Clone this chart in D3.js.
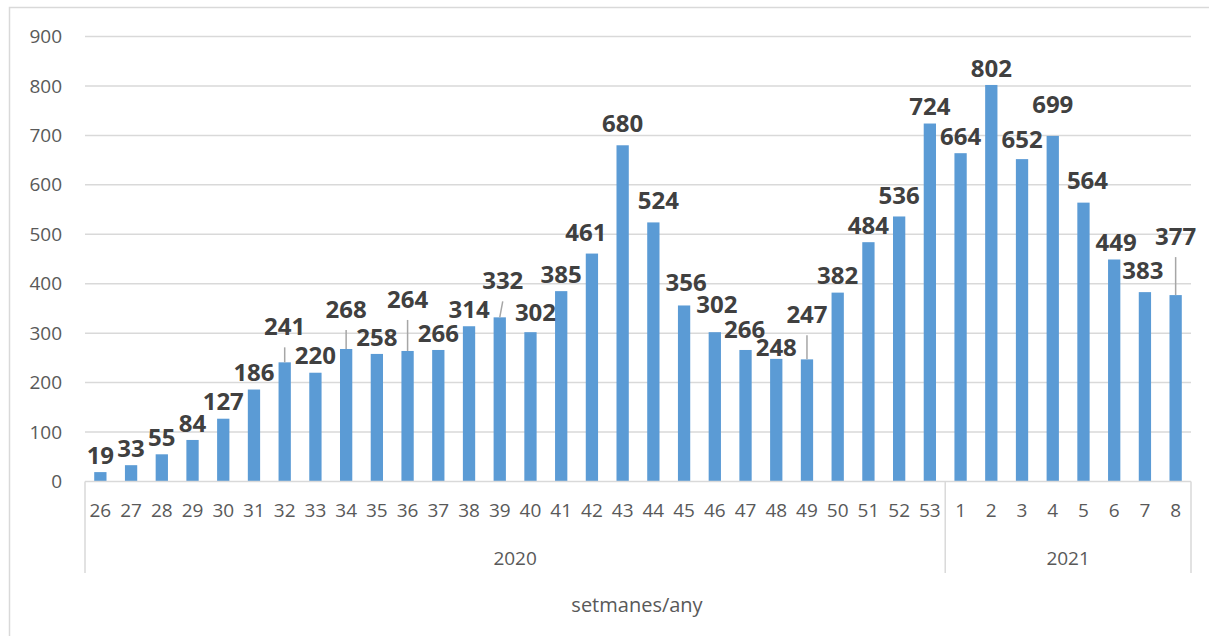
<!DOCTYPE html>
<html>
<head>
<meta charset="utf-8">
<script src="https://cdn.jsdelivr.net/npm/d3@7"></script>
<style>
  body { margin: 0; background: #fff; }
  svg { display: block; font-family: "Open Sans", "Noto Sans", sans-serif; }
  .tick-y, .tick-x, .group-label, .axis-title { fill: #595959; }
  .value-label { fill: #404040; font-weight: 700; }
</style>
</head>
<body>
<div id="chart"></div>
<script>
// weeks on the x axis, grouped by year
const weeks = ["26","27","28","29","30","31","32","33","34","35","36","37","38","39","40","41","42","43","44","45","46","47","48","49","50","51","52","53",
               "1","2","3","4","5","6","7","8"];
const years = ["2020", "2021"];
const weeksPerYear = [28, 8];
const counts = [19,33,55,84,127,186,241,220,268,258,264,266,314,332,302,385,461,680,524,356,302,266,248,247,382,484,536,724,
                664,802,652,699,564,449,383,377];
const yTicks = [0,100,200,300,400,500,600,700,800,900];

// hand-placed labels in the original (index -> [dx, dy, leader line])
const labelNudge = {
  6: [0, -19, true], 8: [0, -23, true], 10: [0, -35, true], 13: [3, -20, true],
  14: [5, -3], 16: [-6, -4], 17: [0, -5], 18: [5, -5], 19: [2, -6], 20: [2, -11],
  21: [-1, -4], 22: [0, 5], 23: [0, -28, true], 26: [0, -4], 30: [0, -3],
  31: [0, -15], 32: [4, -5], 33: [2, 0], 34: [-2, -5], 35: [0, -42, true]
};

function barChart(selector) {
  const W = 1209, H = 636;
  const left = 85, right = 1191, top = 36.5, bottom = 481.5;

  const svg = d3.select(selector).append("svg")
      .attr("width", W)
      .attr("height", H);

  // outer chart frame (only left and top edges are visible in the crop)
  svg.append("path")
      .attr("d", `M9.5,${H} V7.5 H${W}`)
      .attr("fill", "none")
      .attr("stroke", "#d9d9d9")
      .attr("stroke-width", 1.5);

  const x = d3.scaleBand()
      .domain(d3.range(weeks.length))
      .range([left, right])
      .paddingInner(0.6)
      .paddingOuter(0.3);
  const step = x.step();

  const y = d3.scaleLinear()
      .domain([0, 900])
      .range([bottom, top]);

  // gridlines
  svg.append("g")
    .selectAll("line")
    .data(yTicks.filter(d => d > 0))
    .join("line")
      .attr("x1", left)
      .attr("x2", right)
      .attr("y1", d => y(d))
      .attr("y2", d => y(d))
      .attr("stroke", "#d9d9d9")
      .attr("stroke-width", 1.5);

  svg.append("g")
    .selectAll("text")
    .data(yTicks)
    .join("text")
      .attr("class", "tick-y")
      .attr("x", 62)
      .attr("y", d => y(d))
      .attr("dy", "0.35em")
      .attr("text-anchor", "end")
      .style("font-size", "19px")
      .text(d => d);

  // bars
  svg.append("g")
    .selectAll("rect")
    .data(counts)
    .join("rect")
      .attr("x", (d, i) => x(i))
      .attr("y", d => y(d))
      .attr("width", x.bandwidth())
      .attr("height", d => bottom - y(d))
      .attr("fill", "#5b9bd5");

  // category axis: baseline + group separators
  const cx = i => left + step * (i + 0.5);
  svg.append("line")
      .attr("x1", left).attr("x2", right)
      .attr("y1", bottom).attr("y2", bottom)
      .attr("stroke", "#d9d9d9")
      .attr("stroke-width", 1.5);

  const bounds = [0];
  weeksPerYear.forEach(n => bounds.push(bounds[bounds.length - 1] + n));
  svg.append("g")
    .selectAll("line")
    .data(bounds)
    .join("line")
      .attr("x1", b => left + b * step)
      .attr("x2", b => left + b * step)
      .attr("y1", bottom)
      .attr("y2", 573)
      .attr("stroke", "#d9d9d9")
      .attr("stroke-width", 1.5);

  svg.append("g")
    .selectAll("text")
    .data(weeks)
    .join("text")
      .attr("class", "tick-x")
      .attr("x", (d, i) => cx(i))
      .attr("y", 510)
      .attr("dy", "0.35em")
      .attr("text-anchor", "middle")
      .style("font-size", "19px")
      .text(d => d);

  svg.append("g")
    .selectAll("text")
    .data(years)
    .join("text")
      .attr("class", "group-label")
      .attr("x", (d, i) => left + step * (bounds[i] + bounds[i + 1]) / 2)
      .attr("y", 558)
      .attr("dy", "0.35em")
      .attr("text-anchor", "middle")
      .style("font-size", "19px")
      .text(d => d);

  svg.append("text")
      .attr("class", "axis-title")
      .attr("x", 637)
      .attr("y", 605)
      .attr("dy", "0.35em")
      .attr("text-anchor", "middle")
      .style("font-size", "20px")
      .text("setmanes/any");

  // data labels
  const lx = i => cx(i) + (labelNudge[i] ? labelNudge[i][0] : 0);
  const ly = (d, i) => y(d) - 17 + (labelNudge[i] ? labelNudge[i][1] : 0);

  const leaders = counts.map((d, i) => ({ d, i })).filter(o => labelNudge[o.i] && labelNudge[o.i][2]);
  svg.append("g")
    .selectAll("line")
    .data(leaders)
    .join("line")
      .attr("x1", o => lx(o.i))
      .attr("y1", o => ly(o.d, o.i) + 21)
      .attr("x2", o => cx(o.i))
      .attr("y2", o => y(o.d))
      .attr("stroke", "#a6a6a6")
      .attr("stroke-width", 1.5);

  svg.append("g")
    .selectAll("text")
    .data(counts)
    .join("text")
      .attr("class", "value-label")
      .attr("x", (d, i) => lx(i))
      .attr("y", (d, i) => ly(d, i))
      .attr("dy", "0.36em")
      .attr("text-anchor", "middle")
      .style("font-size", "24px")
      .text(d => d);
}

barChart("#chart");
</script>
</body>
</html>
